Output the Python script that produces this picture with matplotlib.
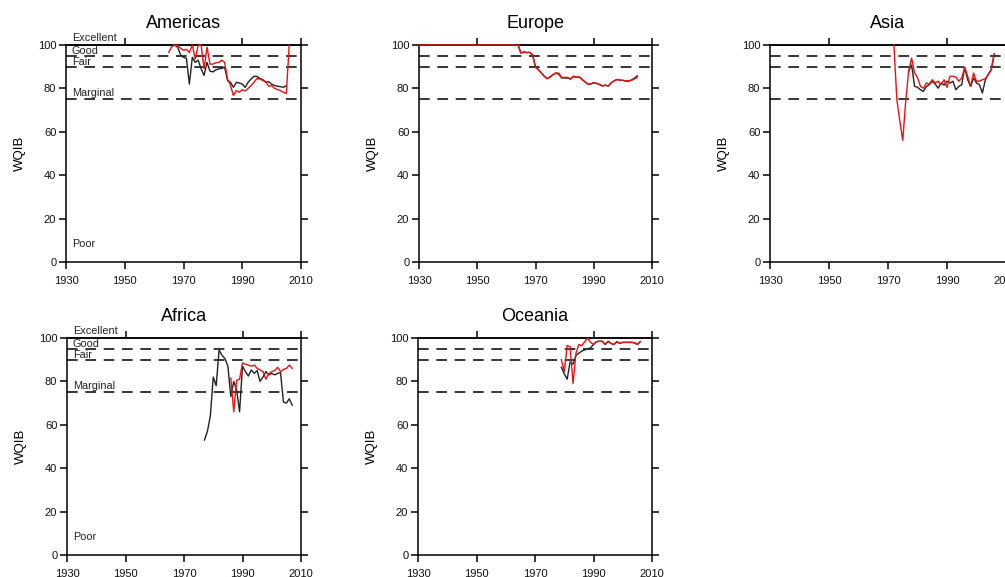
import matplotlib
matplotlib.use('Agg')
import matplotlib.pyplot as plt
from matplotlib import font_manager as fm


def pick(*names):
    for n in names:
        try:
            fm.findfont(fm.FontProperties(family=n), fallback_to_default=False)
            return n
        except Exception:
            pass
    return 'DejaVu Sans'


NARROW = pick('Liberation Sans Narrow', 'Arial Narrow', 'Liberation Sans')
REG = pick('Liberation Sans', 'DejaVu Sans')

# ---------------- data ----------------
amer_black_years = list(range(1966, 2006))
amer_black = [99.4, 100, 99, 95.5, 94.3, 93.8, 82, 94.3, 92, 93, 89, 86, 92, 88, 87.6,
              88.5, 89, 89.2, 89.7, 83.6, 82.8, 80.5, 82.8, 82.5, 82, 80.5, 82.8, 84.3,
              85.6, 85.5, 84.6, 84, 82.8, 83.1, 82, 81.3, 81, 80.8, 80.5, 81.3]
amer_red_years = list(range(1965, 2007))
amer_red = [96.6, 99.4, 100, 99.7, 98.5, 97.6, 98, 96.5, 100, 93.5, 100, 100, 89, 99,
            91.2, 91.2, 91.8, 92, 93, 92, 84.3, 81.3, 76.7, 79, 78.2, 79.4, 78.8, 80,
            81.3, 82.8, 84.6, 84.3, 83.6, 83.1, 81, 81.3, 80, 79.5, 79, 78.2, 77.7, 100]

eur_years = [1930] + list(range(1964, 2006))
eur_red = [100, 100, 96.3, 96.8, 96.5, 96.6, 95.5, 89.7, 88.6, 87.1, 85.6, 84.5, 85.3,
           86.3, 87.1, 87.0, 85.0, 85.1, 85.1, 84.3, 85.6, 85.1, 85.3, 84.1, 83.0, 81.9,
           82.1, 82.6, 82.3, 81.8, 81.1, 81.5, 81.1, 82.6, 83.5, 84.1, 83.8, 83.7, 83.4,
           83.4, 83.7, 84.4, 85.2]
eur_black = [100, 100, 96.3, 96.8, 96.5, 96.6, 95.5, 89.7, 88.6, 87.1, 85.6, 84.5, 85.3,
             86.3, 87.1, 86.5, 84.8, 84.8, 84.8, 84.3, 85.6, 85.1, 85.3, 84.1, 83.0, 81.9,
             82.1, 82.6, 82.3, 81.8, 81.1, 81.5, 81.1, 82.6, 83.5, 84.1, 83.8, 83.7, 83.4,
             83.4, 83.9, 84.8, 85.8]

asia_red_years = list(range(1972, 2007))
asia_red = [100, 74.8, 65, 56, 74, 88, 94, 87.1, 85, 80.9, 80.1, 82.5, 82, 84, 82.5, 83.3,
            81.7, 84, 80.5, 85.6, 85.6, 85.2, 83.3, 84.8, 89.7, 85.6, 80.9, 87.1, 83.3,
            83.3, 84, 84.5, 86.5, 88.6, 95.8]
asia_black_years = list(range(1977, 2007))
asia_black = [88, 90.8, 81, 80.5, 79.4, 78.6, 80.9, 81.7, 83.3, 82, 80.1, 82.5, 81.5, 83.3,
              82.5, 83.3, 79.4, 80.9, 81.7, 89.7, 84, 80.9, 84.8, 82.5, 81.7, 77.9, 84,
              86.5, 88.6, 95.8]

afr_black_years = list(range(1977, 2008))
afr_black = [53, 57, 64, 82, 78, 94.5, 92, 90.5, 87, 73, 80, 76, 66, 87, 84.5, 82.5, 85.3,
             83.7, 85, 80, 82, 84.5, 83, 83.7, 83, 83.7, 84, 70.5, 70, 72, 69]
afr_red_years = list(range(1986, 2008))
afr_red = [81.5, 66, 80.5, 81, 88.5, 88, 87.5, 87, 87.5, 86, 85.3, 84.5, 81, 83.5, 84.5,
           85, 86.5, 84.5, 85.5, 86, 87.5, 86]

oce_years = list(range(1979, 2007))
oce_red = [90, 84.5, 96.5, 96, 79, 93, 97, 96.5, 98.3, 100, 98, 97, 98.3, 98.5, 98.5, 97,
           98.5, 97.5, 97, 98.3, 97.5, 98, 98, 98, 98, 97.8, 97, 98.3]
oce_black = [86.5, 83.5, 81, 89, 88, 92, 93, 94, 94.5, 95, 95.5, 97, 98.3, 98.5, 98.5, 97,
             98.5, 97.5, 97, 98.3, 97.5, 98, 98, 98, 98, 97.8, 97, 98.3]

thresholds = [95, 90, 75]
class_labels = ['Excellent', 'Good', 'Fair', 'Marginal', 'Poor']
class_label_y = [103.4, 97.2, 92.2, 78.0, 8.5]
x_ticks = [1930, 1950, 1970, 1990, 2010]
top_ticks = [1950, 1990, 2010]
y_ticks = [0, 20, 40, 60, 80, 100]

panels = [
    dict(title='Americas', box=(66, 301, 45, 262), black=(amer_black_years, amer_black),
         red=(amer_red_years, amer_red), labels=True),
    dict(title='Europe', box=(419, 652, 45, 262), black=(eur_years, eur_black),
         red=(eur_years, eur_red), labels=False),
    dict(title='Asia', box=(770, 1006, 45, 262), black=(asia_black_years, asia_black),
         red=(asia_red_years, asia_red), labels=False),
    dict(title='Africa', box=(67, 301, 338, 555), black=(afr_black_years, afr_black),
         red=(afr_red_years, afr_red), labels=True),
    dict(title='Oceania', box=(418, 652, 338, 555), black=(oce_years, oce_black),
         red=(oce_years, oce_red), labels=False),
]

W, H = 1005, 577
fig = plt.figure(figsize=(W / 100, H / 100), dpi=100)
fig.patch.set_facecolor('white')

LW = 1.1
for p in panels:
    x0, x1, yt, yb = p['box']
    ax = fig.add_axes([x0 / W, 1 - yb / H, (x1 - x0) / W, (yb - yt) / H])
    ax.set_xlim(1930, 2010)
    ax.set_ylim(0, 100)
    for s in ax.spines.values():
        s.set_linewidth(LW)
        s.set_color('black')
    ax.set_xticks(x_ticks)
    ax.set_yticks(y_ticks)
    ax.tick_params(direction='out', length=5, width=LW, right=True, top=False,
                   colors='black')
    ax.tick_params(axis='x', pad=5)
    ax.tick_params(axis='y', pad=2)
    for lab in ax.get_xticklabels() + ax.get_yticklabels():
        lab.set_family(NARROW)
        lab.set_fontsize(8)
        lab.set_color('#111111')
    sec = ax.secondary_xaxis('top')
    sec.set_xticks(top_ticks)
    sec.set_xticklabels([''] * len(top_ticks))
    sec.tick_params(direction='out', length=5, width=LW)
    sec.spines['top'].set_linewidth(LW)

    for t in thresholds:
        ax.axhline(t, color='black', lw=LW, linestyle=(0, (7, 5)), zorder=1.5)

    bx, by = p['black']
    ax.plot(bx, by, color='#222222', lw=1.0, zorder=3, clip_on=False)
    rx, ry = p['red']
    ax.plot(rx, ry, color='#ee1111', lw=1.0, zorder=3.2, clip_on=False)

    ax.text(0.5, 1 + 17 / 217, p['title'], transform=ax.transAxes, ha='center',
            va='baseline', fontsize=13, family=REG)
    ax.set_ylabel('WQIB', fontsize=9.5, family=REG)
    ax.yaxis.set_label_coords(-0.17, 0.5)

    if p['labels']:
        for lbl, yv in zip(class_labels, class_label_y):
            ax.text(1932, yv, lbl, ha='left', va='center', fontsize=7.8, family=NARROW,
                    color='#222222', clip_on=False, zorder=4)

fig.savefig('out.png', dpi=100)
